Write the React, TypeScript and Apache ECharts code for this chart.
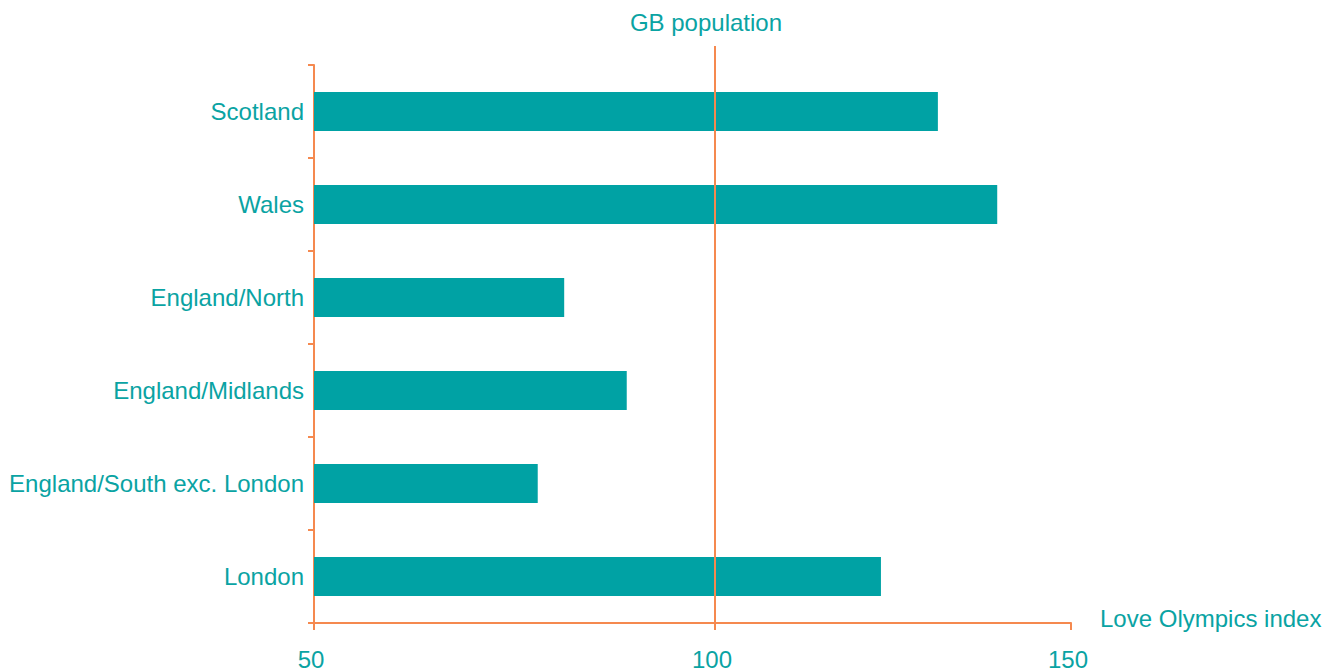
import React, { useEffect, useRef } from "react";
import * as echarts from "echarts";

const categories = [
  "Scotland",
  "Wales",
  "England/North",
  "England/Midlands",
  "England/South exc. London",
  "London",
];
const loveOlympicsIndex = [127.8, 135.2, 81.2, 89.0, 77.9, 120.7];
const gbPopulation = 100;
const xAxisMin = 50;
const xAxisMax = 144.4;
const xTickValues = [50, 100, 144.4];
const xTickLabels = ["50", "100", "150"];

const TEAL_TEXT = "#0AA3A3";
const TEAL_BAR = "#00A2A4";
const ORANGE = "#F5894F";
const FONT = "'Liberation Sans', Arial, sans-serif";

export default function App() {
  const ref = useRef<HTMLDivElement>(null);

  useEffect(() => {
    if (!ref.current) return;
    const chart = echarts.init(ref.current, undefined, { renderer: "svg" });
    chart.setOption({
      animation: false,
      backgroundColor: "#ffffff",
      textStyle: { fontFamily: FONT },
      grid: [
        { left: 314, right: 265, top: 65, bottom: 45 },
        { left: 314, right: 265, top: 46, bottom: 45 },
      ],
      xAxis: [
        {
          type: "value",
          gridIndex: 0,
          min: xAxisMin,
          max: xAxisMax,
          name: "Love Olympics index",
          nameLocation: "end",
          nameGap: 29,
          nameTextStyle: {
            color: TEAL_TEXT,
            fontSize: 24,
            fontFamily: FONT,
            verticalAlign: "bottom",
            lineHeight: 10,
          },
          axisLine: { show: true, lineStyle: { color: ORANGE, width: 2 } },
          axisTick: {
            show: true,
            length: 7,
            customValues: xTickValues,
            lineStyle: { color: ORANGE, width: 2 },
          },
          axisLabel: {
            customValues: xTickValues,
            color: TEAL_TEXT,
            fontSize: 24,
            fontFamily: FONT,
            margin: 24,
            padding: [0, 6, 0, 0],
            formatter: (v: number) => {
              const i = xTickValues.indexOf(v);
              return i >= 0 ? xTickLabels[i] : "";
            },
          },
          splitLine: { show: false },
        },
        {
          type: "value",
          gridIndex: 1,
          min: xAxisMin,
          max: xAxisMax,
          show: false,
        },
      ],
      yAxis: [
        {
          type: "category",
          gridIndex: 0,
          data: categories,
          inverse: true,
          axisLine: { show: true, lineStyle: { color: ORANGE, width: 2 } },
          axisTick: { show: true, length: 6, lineStyle: { color: ORANGE, width: 2 } },
          axisLabel: {
            color: TEAL_TEXT,
            fontSize: 24,
            fontFamily: FONT,
            margin: 10,
            padding: [0, 0, 3, 0],
          },
          splitLine: { show: false },
        },
        {
          type: "value",
          gridIndex: 1,
          min: 0,
          max: 1,
          show: false,
        },
      ],
      series: [
        {
          type: "bar",
          xAxisIndex: 0,
          yAxisIndex: 0,
          data: loveOlympicsIndex,
          barWidth: 39,
          itemStyle: { color: TEAL_BAR },
          silent: true,
        },
        {
          type: "line",
          xAxisIndex: 1,
          yAxisIndex: 1,
          data: [],
          silent: true,
          markLine: {
            silent: true,
            symbol: "none",
            lineStyle: { color: ORANGE, width: 2, type: "solid" },
            label: {
              show: true,
              position: "end",
              distance: 12,
              padding: [0, 18, 0, 0],
              formatter: "GB population",
              color: TEAL_TEXT,
              fontSize: 24,
              fontFamily: FONT,
            },
            data: [{ xAxis: gbPopulation }],
          },
        },
      ],
    });
    return () => chart.dispose();
  }, []);

  return (
    <div
      ref={ref}
      style={{ position: "fixed", left: 0, top: 0, width: 1336, height: 671 }}
    />
  );
}
